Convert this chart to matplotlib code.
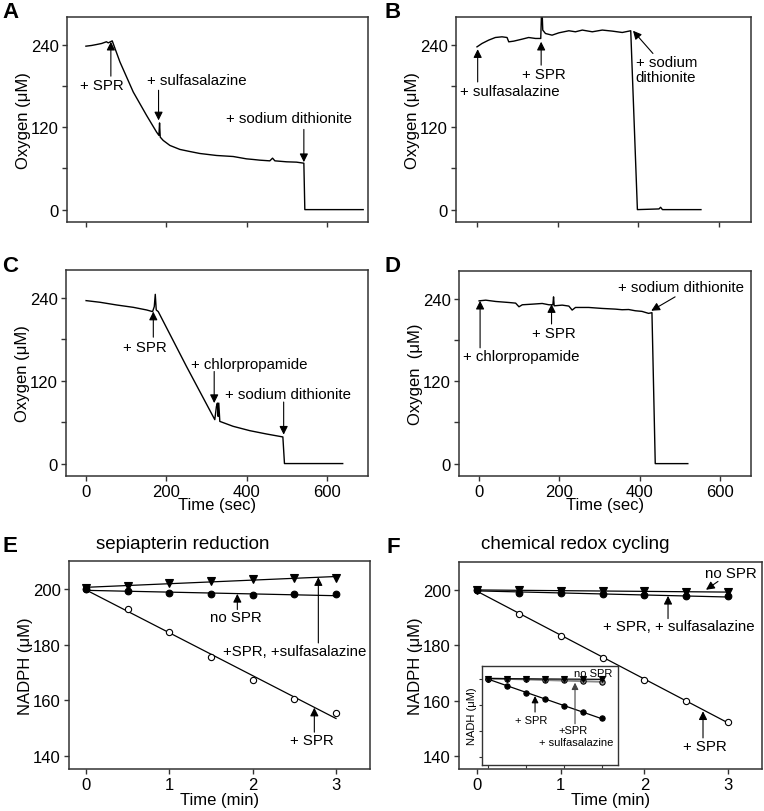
import numpy as np
import matplotlib
matplotlib.use('Agg')
import matplotlib.pyplot as plt

plt.rcParams['font.family'] = ['Liberation Sans', 'DejaVu Sans']

# ---------------- data ----------------
# Panel A trace (time s, O2 uM)
a_t = [0, 14, 26.5, 39, 51, 55.5, 65.4, 84.5, 117.6, 150.7, 175.6, 181.4, 183, 184.7, 192, 208.7,
       233.5, 258, 283, 324.6, 366, 399, 415.7, 432, 457, 463.8, 469.6, 498.6, 523.4, 541.6, 544, 689]
a_o2 = [237.6, 238.6, 240, 241.5, 244, 242.4, 245.3, 214.7, 171, 137, 112.7, 107.9, 126, 105.4, 100.6, 93.3,
        87.5, 84.5, 81.6, 78.7, 77.2, 73.8, 72.9, 71.9, 70.9, 74.8, 70.9, 69.5, 69, 67.5, 0, 0]
# Panel B trace
b_t = [0, 12.4, 29, 45.5, 62, 74.5, 78.7, 91, 111.8, 128, 145, 158, 160.6, 163, 169.7, 186, 203, 227.7,
       244, 261, 285.7, 310.5, 335, 360, 381, 397.5, 451, 455, 459.6, 555]
b_o2 = [236.6, 241.5, 246.4, 250.2, 251.2, 250.2, 243.9, 244.9, 247.8, 250.2, 248.8, 248.8, 300, 261, 256,
        253.6, 257, 260, 258.5, 261, 258.5, 261, 259.5, 257.5, 260, 0, 1, 3.4, 0, 0]
# Panel C trace
c_t = [0, 34.8, 76, 117.6, 150.7, 165.6, 169.8, 172.3, 174.7, 179.7, 250, 320.5, 324.6, 327, 328.8, 330.4,
       333, 366, 407.5, 449, 490, 494, 639]
c_o2 = [235.7, 233.3, 229.4, 226, 222.2, 219.8, 227, 244.8, 222.2, 219.8, 140.5, 63.5, 82.7, 87.5, 68.3, 87.5,
        61, 53.9, 47.6, 42.8, 38.5, 0, 0]
# Panel D trace
d_t = [0, 16.6, 41.4, 74.5, 91, 99.3, 107.6, 132.4, 157.2, 173.8, 183.7, 185.4, 187, 206.9, 223.5, 231.7,
       240, 273, 306, 339, 356, 372.4, 389, 405.5, 422, 430.4, 438.6, 519.7]
d_o2 = [236.6, 237.6, 235.7, 234.2, 233.3, 228, 230.9, 231.8, 232.8, 230.9, 230.9, 242.4, 229.4, 230.4, 229,
        223.2, 227, 227, 225.6, 224.6, 223.7, 224, 222.2, 221.3, 218.4, 219.4, 0, 0]

# Panels E / F (time min, NADPH uM)
ef_t = [0, 0.5, 1, 1.5, 2, 2.5, 3]
e_spr_sulfa = [200.2, 201.2, 202.0, 202.8, 203.5, 203.8, 204.0]   # triangles
e_no_spr = [200.0, 199.1, 198.6, 198.1, 197.8, 198.0, 198.0]      # filled circles
e_spr = [200.0, 192.8, 184.4, 175.4, 167.4, 160.6, 155.4]         # open circles
f_no_spr = [200.0, 199.8, 199.6, 199.5, 199.4, 199.3, 199.2]      # triangles
f_spr_sulfa = [200.0, 199.0, 198.7, 198.3, 198.0, 197.8, 197.6]   # filled circles
f_spr = [200.0, 191.4, 183.4, 175.4, 167.6, 160.0, 152.4]         # open circles
# Inset (NADH)
in_t = [0, 0.25, 0.5, 0.75, 1.0, 1.25, 1.5]
in_no_spr = [200.0, 200.0, 199.8, 199.8, 199.6, 199.6, 199.5]
in_spr_sulfa = [200.0, 199.8, 199.6, 199.2, 198.7, 197.9, 197.4]
in_spr = [200.0, 194.4, 189.2, 184.1, 179.2, 174.6, 169.5]

o2_ticks = [0, 60, 120, 180, 240]
o2_labels = ['0', '', '120', '', '240']
sec_ticks = [0, 200, 400, 600]
min_ticks = [0, 1, 2, 3]
nad_ticks = [140, 160, 180, 200]

# ---------------- figure ----------------
W, H = 764, 812
fig = plt.figure(figsize=(W / 100, H / 100), dpi=100)

SPINE = '#333333'
FS_TICK = 12
FS_LAB = 12
FS_ANN = 10.8


def add_ax(l, t, r, b):
    ax = fig.add_axes([l / W, 1 - b / H, (r - l) / W, (b - t) / H])
    for s in ax.spines.values():
        s.set_color(SPINE)
        s.set_linewidth(1.1)
    ax.tick_params(direction='out', length=3.8, width=1, color=SPINE,
                   labelsize=FS_TICK, pad=2)
    return ax


def arrow(ax, tail, tip, color='k', ms=10):
    ax.annotate('', xy=tip, xytext=tail,
                arrowprops=dict(arrowstyle='-|>,head_length=0.5,head_width=0.25',
                                color=color, lw=0.8, shrinkA=0, shrinkB=0,
                                mutation_scale=ms))


def oxygen_axis(ax, xlim, show_x, ylabel='Oxygen (μM)'):
    ax.set_xlim(*xlim)
    ax.set_ylim(-18, 280)
    ax.set_yticks(o2_ticks, labels=o2_labels)
    ax.set_xticks(sec_ticks)
    if show_x:
        ax.set_xlabel('Time (sec)', fontsize=FS_LAB, labelpad=-1.2)
    else:
        ax.set_xticklabels([])
    ax.set_ylabel(ylabel, fontsize=FS_LAB, labelpad=0)


# A
axA = add_ax(67, 18, 368, 223)
axA.plot(a_t, a_o2, color='k', lw=1.0)
oxygen_axis(axA, (-47, 701), False)
axA.text(39, 181.7, '+ SPR', ha='center', va='center', fontsize=FS_ANN)
arrow(axA, (62, 194), (62, 244))
axA.text(276.6, 189, '+ sulfasalazine', ha='center', va='center', fontsize=FS_ANN)
arrow(axA, (180.5, 173.5), (180.5, 129.7))
axA.text(503.5, 133, '+ sodium dithionite', ha='center', va='center', fontsize=FS_ANN)
arrow(axA, (541.6, 116.6), (541.6, 69))

# B
axB = add_ax(456, 18, 751, 223)
axB.plot(b_t, b_o2, color='k', lw=1.0)
oxygen_axis(axB, (-52, 679), False)
axB.text(80.3, 172, '+ sulfasalazine', ha='center', va='center', fontsize=FS_ANN)
arrow(axB, (1.7, 185.6), (1.7, 233.2))
axB.text(165.6, 197.8, '+ SPR', ha='center', va='center', fontsize=FS_ANN)
arrow(axB, (159, 210), (159, 244))
axB.text(393, 203.6, '+ sodium\ndithionite', ha='left', va='center', fontsize=FS_ANN,
         linespacing=1.05)
arrow(axB, (436, 227), (386.6, 260))

# C
axC = add_ax(66, 271, 368, 477)
axC.plot(c_t, c_o2, color='k', lw=1.0)
oxygen_axis(axC, (-50, 702), True)
axC.text(146.7, 169.3, '+ SPR', ha='center', va='center', fontsize=FS_ANN)
arrow(axC, (167.4, 182.8), (167.4, 219.8))
axC.text(407, 143.8, '+ chlorpropamide', ha='center', va='center', fontsize=FS_ANN)
arrow(axC, (319, 133.2), (319, 87.5))
axC.text(503, 100.5, '+ sodium dithionite', ha='center', va='center', fontsize=FS_ANN)
arrow(axC, (492, 89), (492, 41.8))

# D
axD = add_ax(459, 272, 751, 477)
axD.plot(d_t, d_o2, color='k', lw=1.0)
oxygen_axis(axD, (-50, 677), True, ylabel='Oxygen  (μM)')
axD.text(104, 155.8, '+ chlorpropamide', ha='center', va='center', fontsize=FS_ANN)
arrow(axD, (2.5, 168.3), (2.5, 236.7))
axD.text(186, 189.5, '+ SPR', ha='center', va='center', fontsize=FS_ANN)
arrow(axD, (180.4, 203), (180.4, 231.8))
axD.text(502, 257.3, '+ sodium dithionite', ha='center', va='center', fontsize=FS_ANN)
arrow(axD, (488, 242.4), (428.7, 222.2))


def nadph_axis(ax, xlim):
    ax.set_xlim(*xlim)
    ax.set_ylim(135.4, 210)
    ax.set_xticks(min_ticks)
    ax.set_yticks(nad_ticks)
    ax.set_xlabel('Time (min)', fontsize=FS_LAB, labelpad=0)
    ax.set_ylabel('NADPH (μM)', fontsize=FS_LAB, labelpad=0)


def series(ax, t, y, marker, filled=True, ms=4.5, color='k', lcolor='k', lw=0.9, z=3):
    p = np.polyfit(t, y, 1)
    tt = np.array([t[0], t[-1]])
    ax.plot(tt, np.polyval(p, tt), color=lcolor, lw=lw, zorder=z)
    ax.plot(t, y, linestyle='none', marker=marker, ms=ms,
            markerfacecolor=color if filled else 'white',
            markeredgecolor='k', markeredgewidth=0.8, zorder=z + 1)


# E
axE = add_ax(69, 562, 370, 770)
nadph_axis(axE, (-0.204, 3.408))
series(axE, ef_t, e_spr, 'o', filled=False, ms=4.5)
series(axE, ef_t, e_no_spr, 'o', ms=4.8)
series(axE, ef_t, e_spr_sulfa, 'v', ms=5.2)
axE.text(1.796, 189.8, 'no SPR', ha='center', va='center', fontsize=FS_ANN)
arrow(axE, (1.816, 192.6), (1.816, 198.2))
axE.text(2.5, 177.8, '+SPR, +sulfasalazine', ha='center', va='center', fontsize=FS_ANN)
arrow(axE, (2.788, 180.6), (2.788, 204.2))
axE.text(2.708, 145.8, '+ SPR', ha='center', va='center', fontsize=FS_ANN)
arrow(axE, (2.74, 148.6), (2.74, 157.4))

# F
axF = add_ax(459, 563, 762, 770)
nadph_axis(axF, (-0.215, 3.406))
series(axF, ef_t, f_spr, 'o', filled=False, ms=4.5)
series(axF, ef_t, f_spr_sulfa, 'o', ms=4.8)
series(axF, ef_t, f_no_spr, 'v', ms=5.2)
axF.text(3.036, 206, 'no SPR', ha='center', va='center', fontsize=FS_ANN)
arrow(axF, (2.88, 203), (2.737, 200))
axF.text(2.406, 186.8, '+ SPR, + sulfasalazine', ha='center', va='center', fontsize=FS_ANN)
arrow(axF, (2.283, 189.6), (2.283, 197.8))
axF.text(2.729, 143.8, '+ SPR', ha='center', va='center', fontsize=FS_ANN)
arrow(axF, (2.701, 146.6), (2.701, 156.2))

# Inset
axI = fig.add_axes([481.7 / W, 1 - 766 / H, (618 - 481.7) / W, (766 - 667) / H])
for s in axI.spines.values():
    s.set_color(SPINE)
    s.set_linewidth(1.0)
axI.set_facecolor('white')
axI.set_xlim(-0.088, 1.716)
axI.set_ylim(133.8, 209.7)
axI.set_xticks([0, 0.5, 1.0, 1.5])
axI.set_yticks(nad_ticks)
axI.tick_params(direction='out', length=2.5, width=0.8, color=SPINE,
                labelbottom=False, labelleft=False)
axI.set_ylabel('NADH (μM)', fontsize=8, labelpad=1)
series(axI, in_t, in_spr, 'o', ms=3.8, lw=0.9)
series(axI, in_t, in_spr_sulfa, 'o', ms=3.8, color='#9a9a9a', lcolor='#8a8a8a', lw=1.4, z=3)
series(axI, in_t, in_no_spr, 'v', ms=4.2, lw=0.9, z=5)
axI.text(1.39, 204.2, 'no SPR', ha='center', va='center', fontsize=8)
axI.text(0.565, 168, '+ SPR', ha='center', va='center', fontsize=8)
arrow(axI, (0.618, 174.4), (0.618, 186.7), ms=8)
axI.text(1.12, 160.8, '+SPR', ha='center', va='center', fontsize=8)
axI.text(1.165, 151.3, '+ sulfasalazine', ha='center', va='center', fontsize=8)
arrow(axI, (1.147, 165.4), (1.147, 196.9), color='#444444', ms=8)

# Panel letters and titles
for letter, x, y in [('A', 2, 18), ('B', 385, 18), ('C', 2, 272), ('D', 385, 272),
                     ('E', 2, 552), ('F', 387, 553)]:
    fig.text(x / W, 1 - y / H, letter, fontsize=16, fontweight='bold',
             ha='left', va='baseline')
fig.text(183 / W, 1 - 549 / H, 'sepiapterin reduction', fontsize=13.5,
         ha='center', va='baseline')
fig.text(575 / W, 1 - 549 / H, 'chemical redox cycling', fontsize=13.5,
         ha='center', va='baseline')

fig.savefig('out.png', dpi=100)
